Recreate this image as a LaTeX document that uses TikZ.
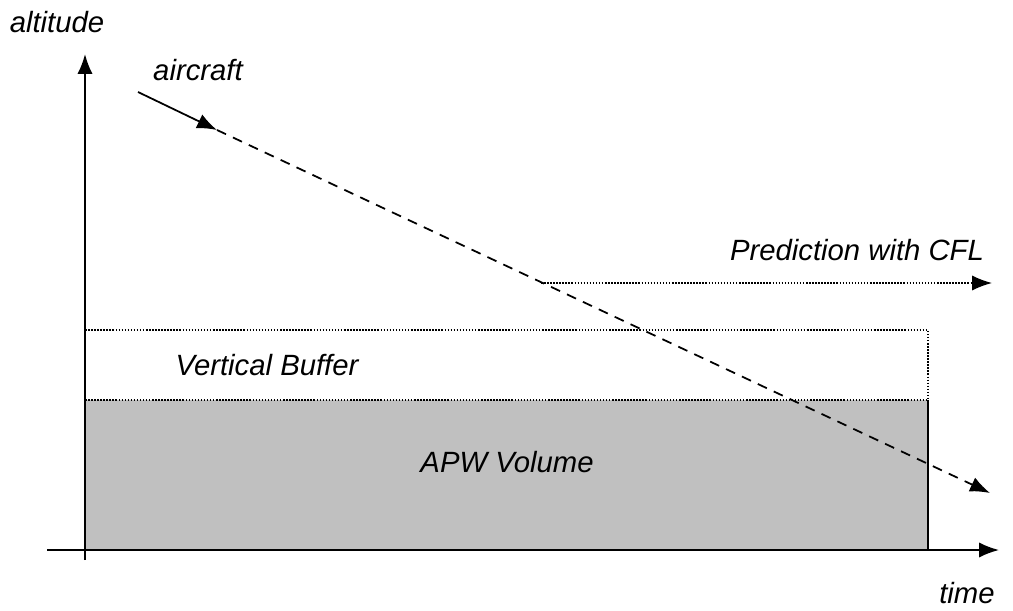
\documentclass[tikz,border=0pt]{standalone}
\usepackage{fontspec}
\setmainfont{Liberation Sans}
\usetikzlibrary{calc,arrows.meta}
\usepackage{xcolor}
\definecolor{apwgray}{RGB}{192,192,192}

\begin{document}
\begin{tikzpicture}[x=0.03cm, y=-0.03cm]
  \tikzstyle{mytext}=[font=\fontsize{25}{30}\selectfont\itshape, inner sep=0pt];
  \tikzstyle{myaxis}=[line width=1.6pt, -{Latex[length=17pt, width=13pt]}];
  \tikzstyle{myconn}=[line width=1.5pt, -{Latex[length=17pt, width=13pt]}];
  \tikzstyle{mydots}=[line width=1.3pt, dash pattern=on 1.3pt off 1.3pt];
  \useasboundingbox (0, 0) rectangle (1013, 610);
  %
  % axes
  \coordinate (o) at (85, 550);
  \coordinate (ybot) at (85, 560);
  \coordinate (ytop) at (85, 54);
  \coordinate (xleft) at (47, 550);
  \coordinate (xright) at (999, 550);
  %
  % APW volume and buffer
  \fill[apwgray] (85, 400) rectangle (928, 550);
  \draw[line width=1.5pt] (928, 400) -- (928, 550);
  \draw[mydots] (85, 400) -- (928, 400);
  \draw[mydots] (85, 400) |- (928, 330) -- (928, 400);
  %
  \draw[myaxis] (ybot) -- (ytop);
  \draw[myaxis] (xleft) -- (xright);
  %
  % labels
  \node[mytext] (alt) at (57, 22) {altitude};
  \node[mytext] (time) at (967, 593) {time};
  \node[mytext] (ac) at (198, 70) {aircraft};
  \node[mytext] (cfl) at (857, 250) {Prediction with CFL};
  \node[mytext] (vb) at (267, 365) {Vertical Buffer};
  \node[mytext] (apw) at (507, 462) {APW Volume};
  %
  % trajectory
  \coordinate (start) at (138, 92);
  \coordinate (now) at (217, 130);
  \coordinate (pred) at (990, 493);
  \coordinate (cflstart) at (541, 283);
  \coordinate (cflend) at (992, 283);
  %
  \draw[myconn] (start) -- (now);
  \draw[myconn, dash pattern=on 8.5pt off 6.5pt] (now) -- (pred);
  \draw[mydots, -{Latex[length=17pt, width=13pt]}] (cflstart) -- (cflend);
\end{tikzpicture}
\end{document}
